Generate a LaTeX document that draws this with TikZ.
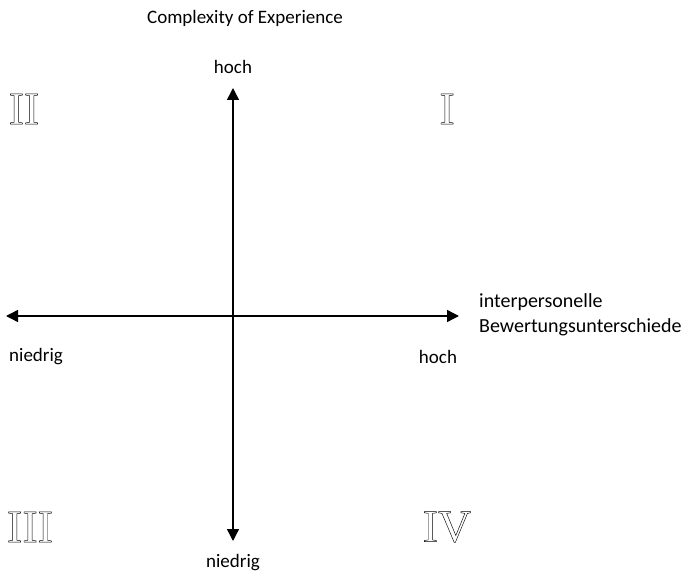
\documentclass[tikz,border=0pt]{standalone}
\usepackage{fontspec}
\setmainfont{Carlito}
\newfontfamily\numfont{Liberation Serif}
\usetikzlibrary{arrows.meta}
% hollow (stroked) glyphs for the quadrant numerals
\newcommand{\hollow}[1]{\special{pdf:literal direct 1 Tr 0.45 w}#1\special{pdf:literal direct 0 Tr}}
\tikzset{
  axis/.style={line width=1.4pt, {Triangle[length=12pt,width=12pt]}-{Triangle[length=12pt,width=12pt]}},
  lbl/.style={font=\fontsize{19}{24.5}\selectfont, inner sep=0pt},
  quad/.style={font=\numfont\fontsize{46}{46}\selectfont, inner sep=0pt}
}
\begin{document}
\begin{tikzpicture}[x=1pt,y=-1pt]
\useasboundingbox (0,0) rectangle (697,575);
% axes
\coordinate (top) at (233,88);
\coordinate (bot) at (233,541);
\coordinate (left) at (6,316);
\coordinate (right) at (459,316);
\draw[axis] (bot) -- (top);
\draw[axis] (left) -- (right);
% labels
\node[lbl] (title) at (245,18) {Complexity of Experience};
\node[lbl] (vhigh) at (233,67) {hoch};
\node[lbl] (vlow) at (233,563) {niedrig};
\node[lbl, anchor=west] (hlow) at (9,357) {niedrig};
\node[lbl] (hhigh) at (438,357) {hoch};
\node[lbl, anchor=west, align=left, font=\fontsize{20}{25}\selectfont] (hname) at (479,315) {interpersonelle\\Bewertungsunterschiede};
% quadrants
\node[quad] (q2) at (24,109) {\hollow{II}};
\node[quad] (q1) at (447,109) {\hollow{I}};
\node[quad] (q3) at (30,527) {\hollow{III}};
\node[quad] (q4) at (447,527) {\hollow{IV}};
\end{tikzpicture}
\end{document}
